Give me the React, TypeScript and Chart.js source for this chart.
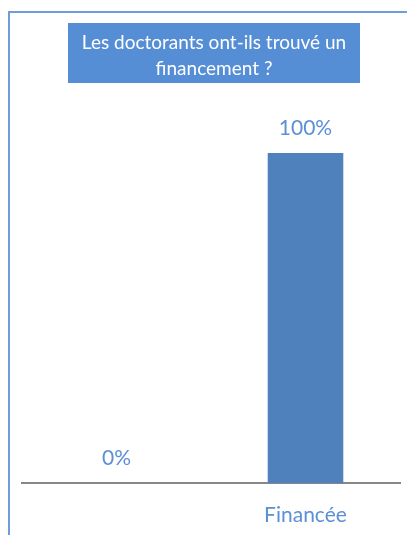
import React, { useEffect, useRef } from "react";
import { Chart, registerables } from "chart.js";

Chart.register(...registerables);

const categories: string[] = ["", "Financée"];
const values: number[] = [0, 100];
const titleLines: string[] = ["Les doctorants ont-ils trouvé un", "financement ?"];

const FONT = "Lato, 'Open Sans', sans-serif";

const decorPlugin = {
  id: "decor",
  beforeDraw(chart: any) {
    const ctx = chart.ctx;
    ctx.save();
    ctx.fillStyle = "#ffffff";
    ctx.fillRect(0, 0, chart.width, chart.height);
    // frame
    ctx.strokeStyle = "#6d9eda";
    ctx.lineWidth = 2;
    ctx.beginPath();
    ctx.moveTo(9, chart.height + 2);
    ctx.lineTo(9, 12);
    ctx.lineTo(chart.width + 2, 12);
    ctx.stroke();
    // title box
    ctx.fillStyle = "#558ed5";
    ctx.fillRect(68, 23, 292, 60);
    ctx.fillStyle = "#ffffff";
    ctx.font = "19px " + FONT;
    ctx.textAlign = "center";
    ctx.textBaseline = "middle";
    ctx.fillText(titleLines[0], 214, 43);
    ctx.fillText(titleLines[1], 214, 69);
    ctx.restore();
  },
  afterDatasetsDraw(chart: any) {
    const ctx = chart.ctx;
    const meta = chart.getDatasetMeta(0);
    ctx.save();
    ctx.fillStyle = "#5b8fd6";
    ctx.font = "21px " + FONT;
    ctx.textAlign = "center";
    ctx.textBaseline = "middle";
    meta.data.forEach((bar: any, i: number) => {
      ctx.fillText(values[i] + "%", bar.x, bar.y - 25);
    });
    ctx.restore();
  },
};

export default function App() {
  const ref = useRef<HTMLCanvasElement>(null);
  useEffect(() => {
    if (!ref.current) return;
    const chart = new Chart(ref.current, {
      type: "bar",
      data: {
        labels: categories,
        datasets: [
          {
            data: values,
            backgroundColor: "#4f81bd",
            barPercentage: 0.4,
            categoryPercentage: 1,
          },
        ],
      },
      options: {
        animation: false,
        responsive: false,
        layout: { padding: { top: 153, left: 22, right: 7, bottom: 0 } },
        plugins: { legend: { display: false }, tooltip: { enabled: false }, title: { display: false } },
        scales: {
          x: {
            grid: { display: false, drawTicks: false },
            border: { color: "#878787", width: 2 },
            ticks: { color: "#5b8fd6", font: { size: 21, family: FONT }, padding: 20, maxRotation: 0 },
            afterFit: (s: any) => {
              s.height = 52;
            },
          },
          y: { display: false, min: 0, max: 100 },
        },
      },
      plugins: [decorPlugin],
    });
    return () => chart.destroy();
  }, []);
  return (
    <div style={{ position: "fixed", left: 0, top: 0, width: 407, height: 535 }}>
      <canvas ref={ref} width={407} height={535} style={{ display: "block" }} />
    </div>
  );
}
